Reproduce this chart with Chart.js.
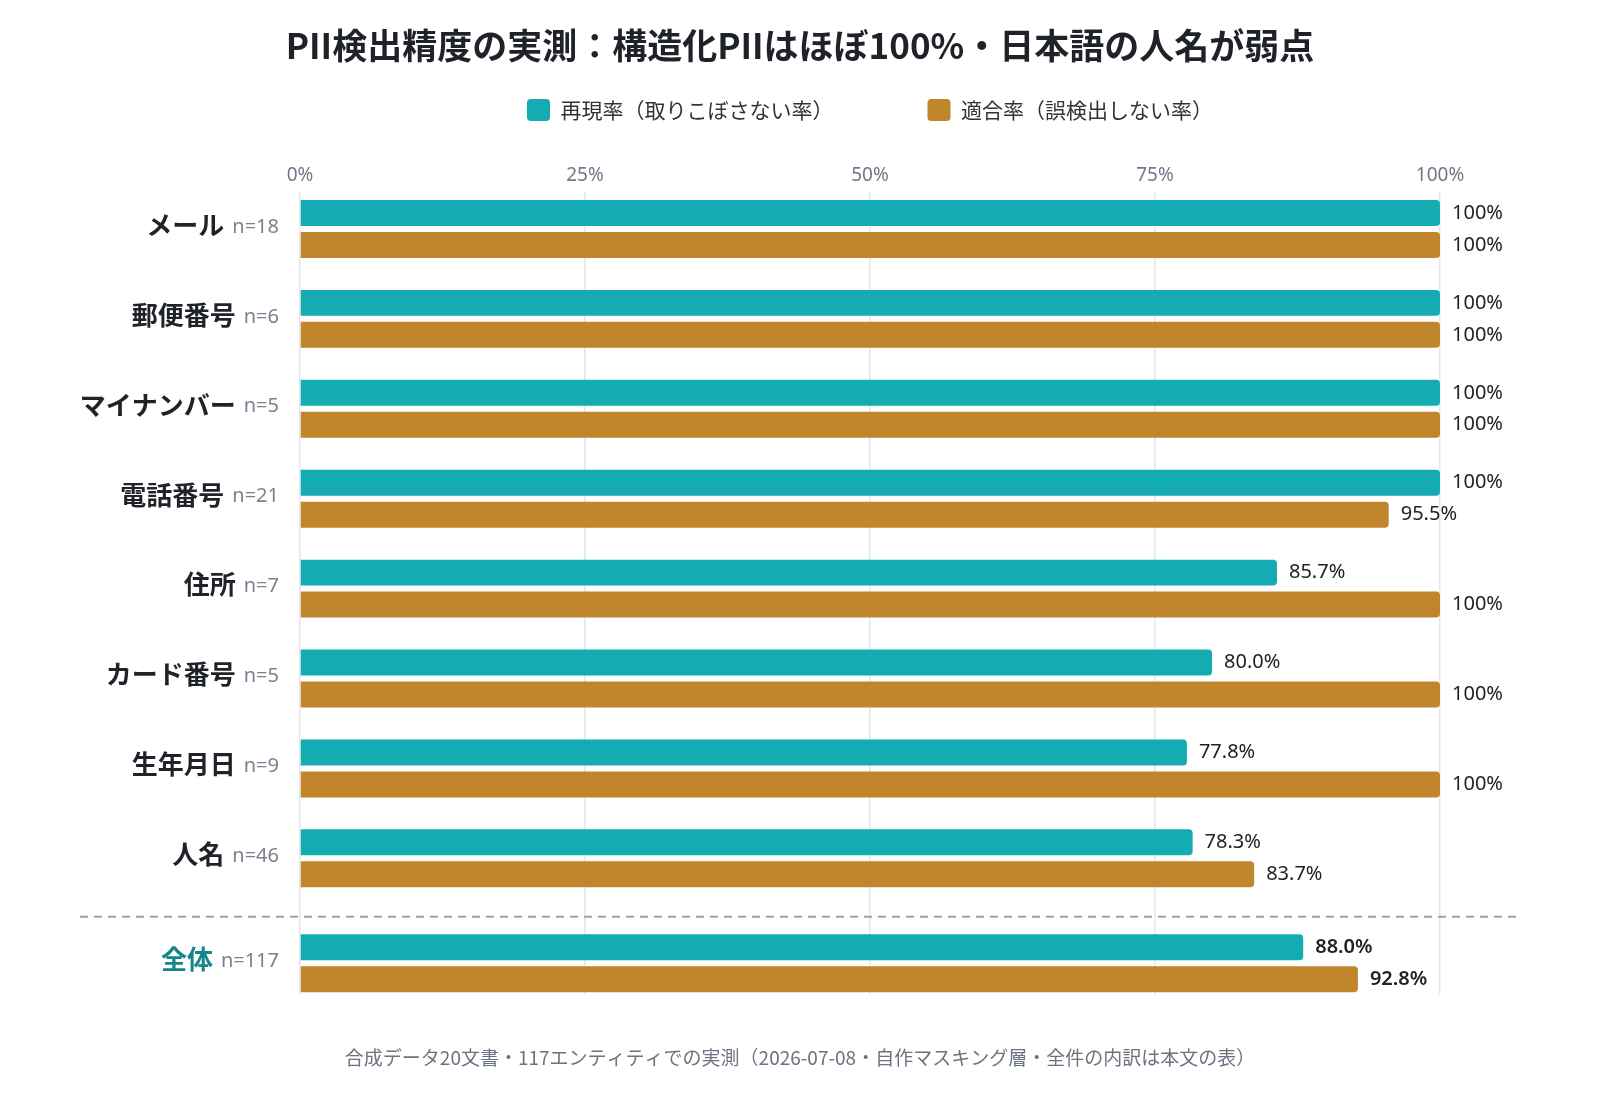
<!DOCTYPE html>
<html lang="ja">
<head>
<meta charset="utf-8">
<title>PII検出精度の実測</title>
<script src="https://cdn.jsdelivr.net/npm/chart.js@4.4.1/dist/chart.umd.min.js"></script>
<style>
  html, body { margin: 0; padding: 0; background: #fff; }
  #wrap { width: 1600px; height: 1100px; }
</style>
</head>
<body>
<div id="wrap"><canvas id="piiChart" width="1600" height="1100"></canvas></div>
<script>
// data
const categories = ['メール', '郵便番号', 'マイナンバー', '電話番号', '住所', 'カード番号', '生年月日', '人名', '全体'];
const sampleCounts = [18, 6, 5, 21, 7, 5, 9, 46, 117];
const recall = [100, 100, 100, 100, 85.7, 80.0, 77.8, 78.3, 88.0];
const precision = [100, 100, 100, 95.5, 100, 100, 100, 83.7, 92.8];
const xTicks = [0, 25, 50, 75, 100];

const TEAL = '#14abb2';
const GOLD = '#c1862b';
const SANS = '"Noto Sans", "Noto Sans CJK JP", sans-serif';
const CJK = '"Noto Sans CJK JP", "Noto Sans", sans-serif';

// summary row (全体) sits a bit further down, below the dashed separator
const summaryIndex = categories.length - 1;
const SUMMARY_GAP = 1.1667;
const SEPARATOR_AT = summaryIndex - 1 + 0.65;

function rowPos(i) {
    return i < summaryIndex ? i : summaryIndex - 1 + SUMMARY_GAP;
}

function formatPct(v) {
    return v === 100 ? '100%' : v.toFixed(1) + '%';
}

const rowPositions = categories.map((c, i) => rowPos(i));

const separatorPlugin = {
    id: 'separator',
    beforeDatasetsDraw(chart) {
        const { ctx } = chart;
        const y = chart.scales.y.getPixelForValue(SEPARATOR_AT);
        ctx.save();
        ctx.strokeStyle = '#9ca0aa';
        ctx.lineWidth = 2;
        ctx.setLineDash([8, 6]);
        ctx.beginPath();
        ctx.moveTo(80, y);
        ctx.lineTo(1517, y);
        ctx.stroke();
        ctx.restore();
    }
};

const rowLabelPlugin = {
    id: 'rowLabels',
    afterDraw(chart) {
        const { ctx, chartArea } = chart;
        const yScale = chart.scales.y;
        const right = chartArea.left - 21;
        ctx.save();
        ctx.textBaseline = 'middle';
        ctx.textAlign = 'right';
        categories.forEach((name, i) => {
            const y = yScale.getPixelForValue(rowPos(i)) - 4;
            const nText = 'n=' + sampleCounts[i];
            ctx.font = '20px ' + SANS;
            ctx.fillStyle = '#7b8190';
            ctx.fillText(nText, right, y + 2);
            const nWidth = ctx.measureText(nText).width;
            ctx.font = 'bold 26px ' + CJK;
            ctx.fillStyle = i === summaryIndex ? '#15858a' : '#1f2329';
            ctx.fillText(name, right - nWidth - 8, y);
        });
        ctx.restore();
    }
};

const valueLabelPlugin = {
    id: 'valueLabels',
    afterDatasetsDraw(chart) {
        const { ctx } = chart;
        ctx.save();
        ctx.textBaseline = 'middle';
        ctx.textAlign = 'left';
        ctx.fillStyle = '#222';
        chart.data.datasets.forEach((ds, di) => {
            const meta = chart.getDatasetMeta(di);
            meta.data.forEach((bar, i) => {
                ctx.font = (i === summaryIndex ? '600 20px ' : '20px ') + SANS;
                ctx.fillText(formatPct(ds.data[i].x), bar.x + 12, bar.y);
            });
        });
        ctx.restore();
    }
};

const hiddenAxis = {
    display: true,
    grid: { display: false },
    border: { display: false },
    ticks: { display: false }
};

new Chart(document.getElementById('piiChart'), {
    type: 'bar',
    data: {
        datasets: [
            {
                label: '再現率（取りこぼさない率）',
                data: recall.map((v, i) => ({ x: v, y: rowPositions[i] })),
                backgroundColor: TEAL,
                borderRadius: 4,
                borderSkipped: 'start',
                categoryPercentage: 0.711,
                barPercentage: 0.8125
            },
            {
                label: '適合率（誤検出しない率）',
                data: precision.map((v, i) => ({ x: v, y: rowPositions[i] })),
                backgroundColor: GOLD,
                borderRadius: 4,
                borderSkipped: 'start',
                categoryPercentage: 0.711,
                barPercentage: 0.8125
            }
        ]
    },
    options: {
        indexAxis: 'y',
        responsive: false,
        devicePixelRatio: 1,
        animation: false,
        layout: { padding: 0 },
        scales: {
            x: {
                type: 'linear',
                position: 'top',
                min: 0,
                max: 100,
                afterBuildTicks: scale => { scale.ticks = xTicks.map(v => ({ value: v })); },
                afterFit: scale => { scale.height = 61; },
                ticks: {
                    padding: 5,
                    color: '#707888',
                    font: { size: 19, family: SANS },
                    callback: v => v + '%'
                },
                grid: { color: '#e3e5ea', lineWidth: 1.5, drawTicks: false },
                border: { display: false }
            },
            y: {
                ...hiddenAxis,
                type: 'linear',
                position: 'left',
                reverse: true,
                offset: false,
                min: -0.411,
                max: 8.511,
                afterBuildTicks: scale => { scale.ticks = rowPositions.map(v => ({ value: v })); },
                afterFit: scale => { scale.width = 300; }
            },
            yRight: {
                ...hiddenAxis,
                type: 'linear',
                position: 'right',
                afterFit: scale => { scale.width = 160; }
            }
        },
        plugins: {
            title: {
                display: true,
                text: 'PII検出精度の実測：構造化PIIはほぼ100%・日本語の人名が弱点',
                color: '#1f2329',
                font: { size: 35, weight: 'bold', family: CJK },
                padding: { top: 25, bottom: -62 }
            },
            legend: {
                display: true,
                position: 'top',
                fullSize: false,
                labels: {
                    boxWidth: 23,
                    boxHeight: 22,
                    useBorderRadius: true,
                    borderRadius: 4,
                    padding: 94,
                    color: '#333',
                    font: { size: 21, family: CJK }
                }
            },
            subtitle: {
                display: true,
                position: 'bottom',
                text: '合成データ20文書・117エンティティでの実測（2026-07-08・自作マスキング層・全件の内訳は本文の表）',
                color: '#6b7280',
                font: { size: 19, family: CJK },
                padding: { top: 52, bottom: 31 }
            },
            tooltip: { enabled: false }
        }
    },
    plugins: [separatorPlugin, rowLabelPlugin, valueLabelPlugin]
});
</script>
</body>
</html>
